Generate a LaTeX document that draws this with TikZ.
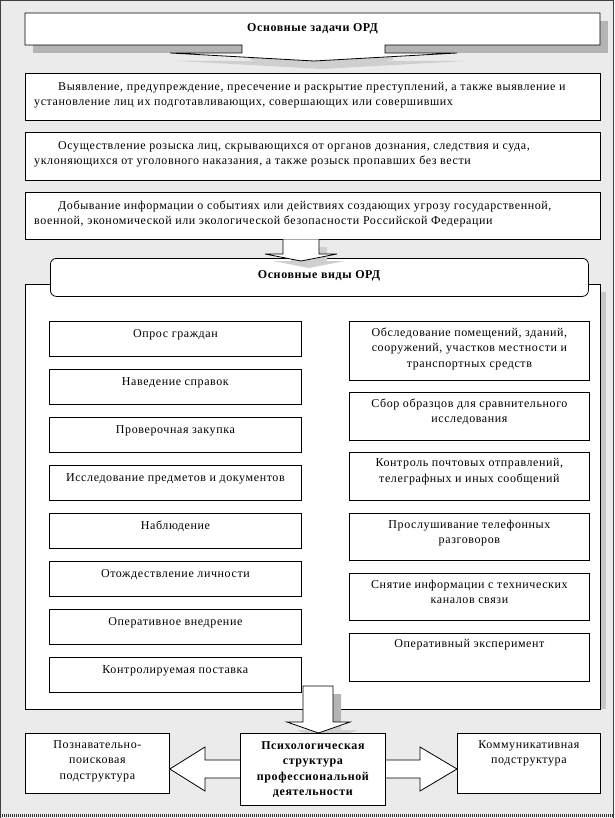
\documentclass[tikz,border=0pt]{standalone}
\usepackage{fontspec}
\setmainfont{Liberation Serif}[LetterSpace=5]
\usetikzlibrary{calc}
\definecolor{bg}{HTML}{EBEBEB}
\definecolor{shd}{HTML}{B4B4B4}
\definecolor{shdl}{HTML}{CFCFCF}
\begin{document}
\begin{tikzpicture}[x=1pt,y=-1pt,line join=miter,
  frame/.style={draw=black,fill=white,line width=0.8pt},
  boxnw/.style={frame,anchor=north west,inner sep=0pt},
  txt/.style={font=\fontsize{12}{15.5}\selectfont,align=center,inner sep=0pt},
  btxt/.style={txt,font=\fontsize{12}{15.5}\selectfont\bfseries},
  ltxt/.style={font=\fontsize{12}{15}\selectfont,align=left,inner sep=0pt,anchor=north west},
  sh/.style={fill=shd},
  shl/.style={fill=shdl}]
\useasboundingbox (0,0) rectangle (614,818);
% background
\fill[bg] (0,0) rectangle (614,818);
\draw[black!75,line width=0.8pt] (0.5,818) -- (0.5,0.5) -- (613.5,0.5) -- (613.5,818);
\draw[black!80,line width=2.5pt,dash pattern=on 1pt off 1pt] (0,815.5) -- (614,815.5);

% ---------- top box with arrow ----------
\fill[shl] (178,61) -- (465,61) -- (322,69) -- cycle;
\fill[sh] (33,21) rectangle (608,53);
\fill[bg] (250,53) rectangle (393,60);
\fill[shl] (250,53) -- (393,53) -- (393,60) -- (322,69) -- (250,60) -- cycle;
\draw[frame] (25,13) -- (600,13) -- (600,45) -- (385,45) -- (385,53) -- (457,53)
  -- (314,61) -- (170,53) -- (242,53) -- (242,45) -- (25,45) -- cycle;
\node[btxt] (t0) at (312.5,28.5) {Основные задачи ОРД};

% ---------- tasks ----------
\node[boxnw,minimum width=575,minimum height=47] (t1) at (25,73) {};
\node[ltxt] (t1t) at ([xshift=9pt,yshift=-9pt]t1.north west)
 {\hspace*{24pt}Выявление, предупреждение, пресечение и раскрытие преступлений, а также выявление и\\
  установление лиц их подготавливающих, совершающих или совершивших};
\node[boxnw,minimum width=575,minimum height=48] (t2) at (25,132) {};
\node[ltxt] (t2t) at ([xshift=9pt,yshift=-9pt]t2.north west)
 {\hspace*{24pt}Осуществление розыска лиц, скрывающихся от органов дознания, следствия и суда,\\
  уклоняющихся от уголовного наказания, а также розыск пропавших без вести};
\node[boxnw,minimum width=575,minimum height=47] (t3) at (25,192) {};
\node[ltxt] (t3t) at ([xshift=9pt,yshift=-9pt]t3.north west)
 {\hspace*{24pt}Добывание информации о событиях или действиях создающих угрозу государственной,\\
  военной, экономической или экологической безопасности Российской Федерации};

% ---------- panel ----------
\fill[black!22] (600,292) rectangle (606,709);
\node[boxnw,minimum width=575,minimum height=425] (panel) at (25,284) {};
\node[boxnw,rounded corners=6pt,minimum width=538,minimum height=38] (vid) at (50,258) {};
\node[btxt] (vidt) at (319,276) {Основные виды ОРД};

% arrow tasks -> vid
\fill[shl] (291,247) -- (327,247) -- (327,261) -- (345,261) -- (309,268) -- (273,261) -- (291,261) -- cycle;
\draw[frame] (283,239.4) -- (283,254) -- (265,254) -- (301,261) -- (337,254) -- (319,254) -- (319,239.4);

% ---------- left column ----------
\foreach \i/\t in {1/Опрос граждан,2/Наведение справок,3/Проверочная закупка,
  4/Исследование предметов и документов,5/Наблюдение,6/Отождествление личности,
  7/Оперативное внедрение,8/Контролируемая поставка}{
  \fill[black!35] ($(49,321)+(1.2,48*\i-48+1.2)$) rectangle ++(252,35);
  \node[boxnw,minimum width=252,minimum height=35] (l\i) at ($(49,321)+(0,48*\i-48)$) {};
  \node[txt,anchor=north] (l\i t) at ([yshift=-8pt]l\i.north) {\t};
}

% ---------- right column ----------
\foreach \i/\y/\h/\t in {1/321/59/{Обследование помещений, зданий,\\сооружений, участков местности и\\транспортных средств},
  2/392/48/{Сбор образцов для сравнительного\\исследования},
  3/452/48/{Контроль почтовых отправлений,\\телеграфных и иных сообщений},
  4/513/47/{Прослушивание телефонных\\разговоров},
  5/573/47/{Снятие информации с технических\\каналов связи},
  6/633/48/{Оперативный эксперимент}}{
  \fill[black!35] (350.2,\y+1.2) rectangle ++(240,\h);
  \node[boxnw,minimum width=240,minimum height=\h] (r\i) at (349,\y) {};
  \node[txt,anchor=north] (r\i t) at ([yshift=-6.5pt]r\i.north) {\t};
}

% ---------- arrow panel -> centre ----------
\fill[shl] (311,694) -- (341,694) -- (341,730) -- (358,730) -- (327,741) -- (296,730) -- (311,730) -- cycle;
\fill[shd] (333,694) rectangle (341,722);
\draw[frame] (303,686) -- (333,686) -- (333,722) -- (350,722) -- (318.5,733) -- (287,722) -- (303,722) -- cycle;

% ---------- bottom row ----------
\node[boxnw,minimum width=144,minimum height=60] (pb) at (25,733) {};
\node[txt,anchor=north] (pbt) at ([yshift=-7pt]pb.north) {Познавательно-\\поисковая\\подструктура};
\node[boxnw,minimum width=143,minimum height=60] (kb) at (457,733) {};
\node[txt,anchor=north] (kbt) at ([yshift=-7pt]kb.north) {Коммуникативная\\подструктура};

\draw[frame] (245,760) -- (205,760) -- (205,747) -- (pb.east |- 0,769) -- (205,791) -- (205,778) -- (245,778);
\draw[frame] (380,760) -- (420,760) -- (420,747) -- (kb.west |- 0,769) -- (420,791) -- (420,778) -- (380,778);

\node[boxnw,minimum width=145,minimum height=72] (cb) at (240,733) {};
\node[btxt] (cbt) at (cb.center) {Психологическая\\структура\\профессиональной\\деятельности};
\end{tikzpicture}
\end{document}
